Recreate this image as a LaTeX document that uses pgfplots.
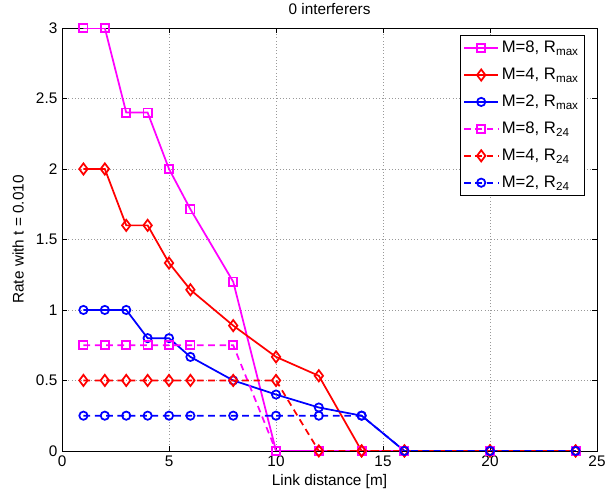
\documentclass[border=0pt]{standalone}
\usepackage{fontspec}
\setmainfont{Liberation Sans}
\usepackage{pgfplots}
\pgfplotsset{compat=1.18}
\definecolor{mag}{RGB}{255,0,255}
\begin{document}
\begin{tikzpicture}
\begin{axis}[
  width=401pt, height=317pt, scale only axis,
  xmin=0, xmax=25, ymin=0, ymax=3,
  xtick={0,5,10,15,20,25}, ytick={0,0.5,1,1.5,2,2.5,3},
  /pgf/number format/assume math mode=true,
  ticklabel style={font=\fontsize{11.5}{13}\selectfont},
  label style={font=\fontsize{11.5}{13}\selectfont},
  title style={font=\fontsize{11.5}{13}\selectfont, at={(axis description cs:0.5,1.0426)}, anchor=center, yshift=-5.5pt},
  title={0 interferers},
  xlabel={Link distance [m]}, ylabel={Rate with t = 0.010},
  xlabel style={at={(axis description cs:0.5,-0.0733)}, anchor=center},
  ylabel style={at={(axis description cs:-0.0822,0.5)}, anchor=center},
  grid=major, major grid style={dotted, gray!80},
  tick style={black, thin}, major tick length=4pt,
  axis line style={black, thin},
  legend style={at={(0.9776,0.9834)}, anchor=north east, font=\fontsize{12.5}{14}\selectfont,
    draw=black, inner sep=2.5pt, row sep=6pt, cells={anchor=west}},
  legend image code/.code={\draw[mark repeat=2,mark phase=2,#1] plot coordinates {(0cm,0cm) (0.45cm,0cm) (0.9cm,0cm)};},
  dashed/.style={dash pattern=on 5pt off 3.5pt},
]
\addplot[mag, line width=1.3pt, mark size=3.1pt, mark=square] coordinates {(1,3)(2,3)(3,2.4)(4,2.4)(5,2.0)(6,1.714)(8,1.2)(10,0)(12,0)(14,0)(16,0)(20,0)(24,0)};
\addlegendentry{M=8, R\textsubscript{max}}
\addplot[red, line width=1.3pt, mark=diamond, mark size=4.2pt] coordinates {(1,2)(2,2)(3,1.6)(4,1.6)(5,1.333)(6,1.143)(8,0.889)(10,0.667)(12,0.533)(14,0)(16,0)(20,0)(24,0)};
\addlegendentry{M=4, R\textsubscript{max}}
\addplot[blue, line width=1.3pt, mark size=3.1pt, mark=o] coordinates {(1,1)(2,1)(3,1)(4,0.8)(5,0.8)(6,0.667)(8,0.5)(10,0.4)(12,0.308)(14,0.25)(16,0)(20,0)(24,0)};
\addlegendentry{M=2, R\textsubscript{max}}
\addplot[mag, line width=1.3pt, mark size=3.1pt, dashed, mark=square, mark options={solid}] coordinates {(1,0.75)(2,0.75)(3,0.75)(4,0.75)(5,0.75)(6,0.75)(8,0.75)(10,0)(12,0)(14,0)(16,0)(20,0)(24,0)};
\addlegendentry{M=8, R\textsubscript{24}}
\addplot[red, line width=1.3pt, dashed, mark=diamond, mark size=4.2pt, mark options={solid}] coordinates {(1,0.5)(2,0.5)(3,0.5)(4,0.5)(5,0.5)(6,0.5)(8,0.5)(10,0.5)(12,0)(14,0)(16,0)(20,0)(24,0)};
\addlegendentry{M=4, R\textsubscript{24}}
\addplot[blue, line width=1.3pt, mark size=3.1pt, dashed, mark=o, mark options={solid}] coordinates {(1,0.25)(2,0.25)(3,0.25)(4,0.25)(5,0.25)(6,0.25)(8,0.25)(10,0.25)(12,0.25)(14,0.25)(16,0)(20,0)(24,0)};
\addlegendentry{M=2, R\textsubscript{24}}
\end{axis}
\pgfresetboundingbox
\path[use as bounding box] ([xshift=-46.5pt,yshift=-33.7pt]current axis.south west) rectangle ([xshift=6pt,yshift=21pt]current axis.north east);
\end{tikzpicture}
\end{document}
